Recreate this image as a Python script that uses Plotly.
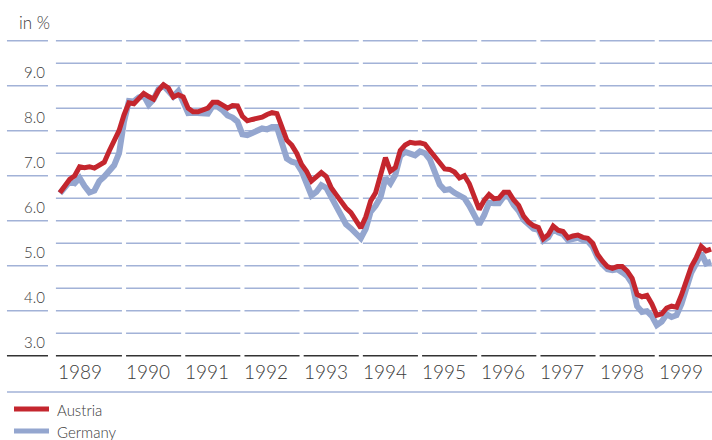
import plotly.graph_objects as go
import pandas as pd

# ---- data (monthly, Dec 1988 - Dec 1999), in % ----
months = pd.date_range("1988-12-01", periods=133, freq="MS")

austria = [
    6.62, 6.78, 6.92, 7.00, 7.20, 7.18, 7.20, 7.17, 7.22, 7.30, 7.55, 7.75, 8.00,
    8.35, 8.62, 8.60, 8.72, 8.83, 8.76, 8.70, 8.90, 9.02, 8.95, 8.75, 8.80,
    8.75, 8.50, 8.42, 8.42, 8.45, 8.50, 8.63, 8.63, 8.57, 8.50, 8.56, 8.55,
    8.32, 8.22, 8.25, 8.28, 8.30, 8.36, 8.40, 8.38, 8.05, 7.79, 7.68, 7.50,
    7.25, 7.10, 6.88, 6.97, 7.07, 6.98, 6.73, 6.58, 6.43, 6.28, 6.18, 6.03,
    5.84, 6.08, 6.44, 6.62, 7.00, 7.40, 7.10, 7.18, 7.56, 7.68, 7.74, 7.72,
    7.73, 7.70, 7.56, 7.43, 7.26, 7.15, 7.14, 7.08, 6.95, 7.00, 6.82, 6.52,
    6.25, 6.45, 6.58, 6.49, 6.50, 6.63, 6.63, 6.46, 6.34, 6.10, 5.97, 5.89,
    5.85, 5.60, 5.69, 5.88, 5.79, 5.76, 5.62, 5.66, 5.68, 5.63, 5.61, 5.50,
    5.25, 5.10, 4.98, 4.94, 4.98, 4.98, 4.88, 4.72, 4.36, 4.31, 4.34, 4.15,
    3.90, 3.93, 4.06, 4.10, 4.08, 4.35, 4.70, 4.98, 5.18, 5.43, 5.33, 5.37,
]

germany = [
    6.61, 6.75, 6.87, 6.83, 6.95, 6.77, 6.63, 6.67, 6.88, 6.98, 7.12, 7.23, 7.50,
    8.20, 8.66, 8.65, 8.74, 8.78, 8.58, 8.70, 8.92, 9.00, 8.88, 8.76, 8.88,
    8.60, 8.39, 8.40, 8.39, 8.37, 8.38, 8.55, 8.53, 8.45, 8.34, 8.29, 8.20,
    7.92, 7.90, 7.95, 8.00, 8.05, 8.03, 8.08, 8.08, 7.70, 7.38, 7.31, 7.28,
    7.10, 6.82, 6.56, 6.64, 6.79, 6.73, 6.52, 6.30, 6.07, 5.92, 5.83, 5.70,
    5.61, 5.82, 6.20, 6.33, 6.52, 6.95, 6.83, 7.02, 7.44, 7.53, 7.50, 7.45,
    7.54, 7.50, 7.36, 7.12, 6.80, 6.68, 6.70, 6.62, 6.56, 6.50, 6.33, 6.11,
    5.92, 6.12, 6.40, 6.39, 6.39, 6.54, 6.54, 6.35, 6.22, 6.02, 5.90, 5.82,
    5.80, 5.56, 5.63, 5.82, 5.74, 5.70, 5.57, 5.60, 5.62, 5.57, 5.55, 5.42,
    5.18, 5.03, 4.92, 4.90, 4.92, 4.85, 4.77, 4.60, 4.10, 3.97, 3.99, 3.88,
    3.68, 3.76, 3.92, 3.86, 3.90, 4.15, 4.55, 4.85, 5.05, 5.28, 5.05, 5.09,
]

years = [1989, 1990, 1991, 1992, 1993, 1994, 1995, 1996, 1997, 1998, 1999]
year_labels = [str(y) for y in years]
y_ticks = [3.0, 4.0, 5.0, 6.0, 7.0, 8.0, 9.0]
y_tick_labels = ["3.0", "4.0", "5.0", "6.0", "7.0", "8.0", "9.0"]
grid_levels = [3.5 + 0.5 * i for i in range(14)]  # 3.5 ... 10.0

# ---- styling ----
RED = "#c4262e"
BLUE = "#94a6cf"
GRID = "#a2b2d7"
TEXT = "#3a3a3a"
FONT = "Lato"
WEIGHT = 300

W, H = 712, 440

def px(sx):
    return sx / W

def py(sy):
    return 1 - sy / H

x_dec = [d.year + (d.month - 1) / 12 for d in months]

X_LO, X_HI = 1987.9054, 1999.9324
Y_LO, Y_HI = 1.127, 10.904
GAP = 0.035
AXIS_START = 1988.85
STUB = (1988.023, 1988.716)

fig = go.Figure()
fig.add_trace(go.Scatter(x=x_dec, y=germany, mode="lines", name="Germany",
                         line=dict(color=BLUE, width=6), showlegend=False))
fig.add_trace(go.Scatter(x=x_dec, y=austria, mode="lines", name="Austria",
                         line=dict(color=RED, width=5), showlegend=False))

shapes = []
def seg_bounds(y):
    x0 = AXIS_START if y == years[0] else y + GAP
    x1 = X_HI + 0.1 if y == years[-1] else y + 1 - GAP
    return x0, x1

for lv in grid_levels:
    for y in years:
        x0, x1 = seg_bounds(y)
        shapes.append(dict(type="line", xref="x", yref="y", x0=x0, x1=x1, y0=lv, y1=lv,
                           line=dict(color=GRID, width=1.4), layer="below"))
    if abs(lv - round(lv)) < 1e-9:
        shapes.append(dict(type="line", xref="x", yref="y", x0=STUB[0], x1=STUB[1], y0=lv, y1=lv,
                           line=dict(color=GRID, width=1.4), layer="below"))
for y in years:
    x0, x1 = seg_bounds(y)
    shapes.append(dict(type="line", xref="x", yref="y", x0=x0, x1=x1, y0=3.0, y1=3.0,
                       line=dict(color="#333333", width=1.6), layer="below"))
shapes.append(dict(type="line", xref="x", yref="y", x0=STUB[0], x1=STUB[1], y0=3.0, y1=3.0,
                   line=dict(color="#333333", width=1.6), layer="below"))
shapes.append(dict(type="line", xref="paper", yref="paper", x0=px(7), x1=1, y0=py(392), y1=py(392),
                   line=dict(color=GRID, width=1.4)))
shapes.append(dict(type="line", xref="paper", yref="paper", x0=px(14), x1=px(49),
                   y0=py(409), y1=py(409), line=dict(color=RED, width=5)))
shapes.append(dict(type="line", xref="paper", yref="paper", x0=px(14), x1=px(49),
                   y0=py(431), y1=py(431), line=dict(color=BLUE, width=5)))

def f(size):
    return dict(family=FONT, size=size, color=TEXT, weight=WEIGHT)

annotations = []
for v, t in zip(y_ticks, y_tick_labels):
    annotations.append(dict(x=STUB[1] - 0.02, y=v + 0.3, xref="x", yref="y", text=t,
                            showarrow=False, xanchor="right", yanchor="middle", font=f(15)))
for y, t in zip(years, year_labels):
    x0 = AXIS_START if y == years[0] else y
    annotations.append(dict(x=x0, y=2.66, xref="x", yref="y", text=t, showarrow=False,
                            xanchor="left", yanchor="middle", font=f(19)))
annotations.append(dict(x=px(17), y=py(22.5), xref="paper", yref="paper", text="in %",
                        showarrow=False, xanchor="left", yanchor="middle", font=f(17)))
annotations.append(dict(x=px(55), y=py(410), xref="paper", yref="paper", text="Austria",
                        showarrow=False, xanchor="left", yanchor="middle", font=f(15)))
annotations.append(dict(x=px(55), y=py(432), xref="paper", yref="paper", text="Germany",
                        showarrow=False, xanchor="left", yanchor="middle", font=f(15)))

fig.update_layout(
    width=W, height=H,
    margin=dict(l=0, r=0, t=0, b=0),
    paper_bgcolor="white", plot_bgcolor="white",
    xaxis=dict(range=[X_LO, X_HI], visible=False, fixedrange=True),
    yaxis=dict(range=[Y_LO, Y_HI], visible=False, fixedrange=True),
    shapes=shapes, annotations=annotations,
    showlegend=False,
)

fig.write_html(
    "out.html",
    config={"displayModeBar": False},
    post_script="document.body.style.margin='0';document.body.style.overflow='hidden';",
)
